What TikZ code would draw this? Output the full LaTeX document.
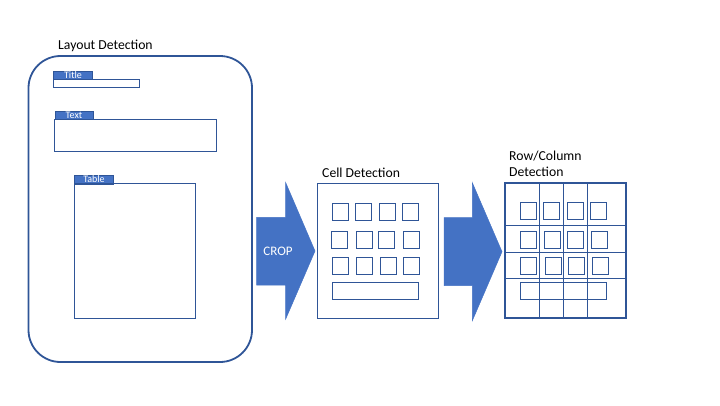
\documentclass[tikz,border=0pt]{standalone}
\usepackage{fontspec}
\setmainfont{Carlito}
\definecolor{edge}{HTML}{2F5597}
\definecolor{fillb}{HTML}{4472C4}
\tikzset{
  box/.style={draw=edge, line width=1pt},
  cell/.style={draw=edge, line width=0.9pt},
  tag/.style={fill=fillb, draw=edge, line width=0.6pt},
  tagtext/.style={text=white, font=\fontsize{10}{11}\selectfont, inner sep=0pt},
  heading/.style={font=\fontsize{13.7}{16}\selectfont, inner sep=0pt, anchor=base west, align=left},
  blockarrow/.style={fill=fillb, draw=fillb, line width=0.5pt},
}
\begin{document}
\begin{tikzpicture}[x=1pt,y=-1pt]
\useasboundingbox (0,0) rectangle (720,405);
% Layout detection
\node[heading] (hlayout) at (58,49) {Layout Detection};
\draw[draw=edge, line width=1.8pt, rounded corners=32pt] (28.5,56) rectangle (252,362);
\draw[tag] (53.3,71) rectangle (92.7,79);
\node[tagtext] (ttitle) at (73,75) {Title};
\draw[box] (53.3,79.2) rectangle (139.3,87.3);
\draw[tag] (55.3,111) rectangle (93.3,119.3);
\node[tagtext] (ttext) at (74,115.3) {Text};
\draw[box] (54.3,119.5) rectangle (216.7,151.3);
\draw[tag] (74,175) rectangle (113.7,183.8);
\node[tagtext] (ttable) at (94,179.4) {Table};
\draw[box] (74,183.8) rectangle (195.3,318.3);
% CROP arrow
\draw[blockarrow] (256.7,217.3) -- (285.7,217.3) -- (285.7,182.7) -- (315,251) -- (285.7,319) -- (285.7,285) -- (256.7,285) -- cycle;
\node[text=white, font=\fontsize{13}{15}\selectfont, inner sep=0pt] (crop) at (278,251.5) {CROP};
% Cell detection
\node[heading] (hcell) at (322,177) {Cell Detection};
\draw[box] (317.3,183.3) rectangle (438.7,318);
\foreach \x/\y in {332.3/203.3,355.3/203.3,379.3/203.3,402.7/203.3,
                   331.3/231,356.3/231,378.7/231,403.3/231,
                   332/257.3,356.3/257.3,380/257.3,403.3/257.3}
  \draw[cell] (\x,\y) rectangle ++(16,17);
\draw[cell] (332.3,282.3) rectangle (418.7,299.3);
% second arrow
\draw[blockarrow] (444,217.7) -- (472.3,217.7) -- (472.3,182.7) -- (502,251.7) -- (472.3,320.7) -- (472.3,285.7) -- (444,285.7) -- cycle;
% Row/Column detection
\node[heading] (hrow) at (509,160) {Row/Column};
\node[heading] (hrow2) at (509,176) {Detection};
\foreach \x in {539.3,563.7,587.7}
  \draw[cell] (\x,183.3) -- (\x,317.7);
\draw[cell] (505,225.7) -- (626,225.7);
\draw[draw=edge, line width=1.6pt] (505,252.3) -- (626,252.3);
\draw[cell] (505,278) -- (626,278);
\foreach \x/\y in {520.3/202.3,543.3/202.3,567.3/202.3,590.3/202.3,
                   520.3/231,544.3/231,567.7/231,591/231,
                   520.3/257.3,545.3/257.3,568/257.3,592/257.3}
  \draw[cell] (\x,\y) rectangle ++(16,17);
\draw[cell] (520.3,282.3) rectangle (606.3,299);
\draw[draw=edge, line width=1.8pt] (505,183.3) rectangle (626,317.7);
\end{tikzpicture}
\end{document}
